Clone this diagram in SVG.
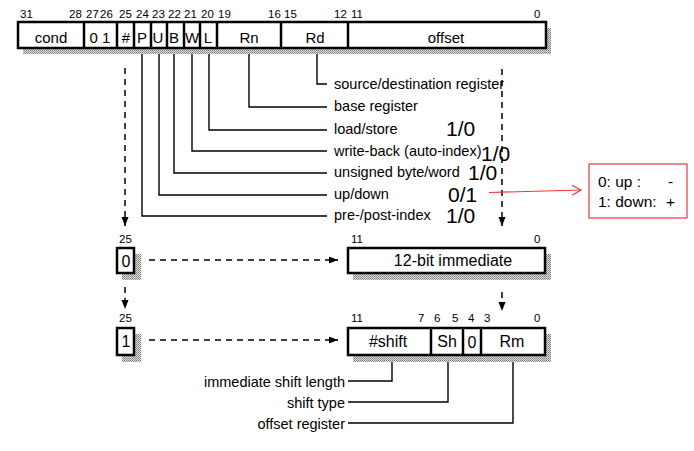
<svg xmlns="http://www.w3.org/2000/svg" width="694" height="451" viewBox="0 0 694 451">
  <style>
    text { font-family: "Liberation Sans", Arial, sans-serif; fill: #000; }
    .bit { font-size: 11.5px; }
    .fld { font-size: 15px; text-anchor: middle; }
    .fld2 { font-size: 16px; text-anchor: middle; }
    .lbl { font-size: 14.5px; }
    .lblr { font-size: 14.5px; text-anchor: end; }
    .big { font-size: 21px; }
    .box { fill: #fff; stroke: #000; stroke-width: 2.5; }
    .div { stroke: #000; stroke-width: 2.5; }
    .shadow { fill: url(#dots); }
    .lead { fill: none; stroke: #000; stroke-width: 1.4; }
    .dash { fill: none; stroke: #000; stroke-width: 1.5; stroke-dasharray: 6 5; }
    .red { fill: none; stroke: #e8383d; stroke-width: 1.2; }
    .note { font-size: 15.5px; }
  </style>
  <defs>
    <pattern id="dots" width="2" height="2" patternUnits="userSpaceOnUse">
      <rect width="2" height="2" fill="#dcdcdc"/>
      <rect width="1" height="1" fill="#7a7a7a"/>
      <rect x="1" y="1" width="1" height="1" fill="#9a9a9a"/>
    </pattern>
    <marker id="head" markerUnits="userSpaceOnUse" markerWidth="10" markerHeight="8" refX="9" refY="3.5" orient="auto">
      <path d="M0,0 L9,3.5 L0,7 z" fill="#000"/>
    </marker>
    <marker id="open" markerUnits="userSpaceOnUse" markerWidth="12" markerHeight="12" refX="10" refY="6" orient="auto">
      <path d="M1,1 L10,6 L1,11" fill="none" stroke="#e8383d" stroke-width="1.2"/>
    </marker>
  </defs>

  <!-- instruction word -->
  <g id="instr">
    <rect class="shadow" x="23" y="28" width="528" height="26"/>
    <rect class="box" x="18" y="22" width="528" height="26"/>
    <line class="div" x1="84" y1="22" x2="84" y2="48"/>
    <line class="div" x1="117" y1="22" x2="117" y2="48"/>
    <line class="div" x1="134" y1="22" x2="134" y2="48"/>
    <line class="div" x1="151" y1="22" x2="151" y2="48"/>
    <line class="div" x1="167" y1="22" x2="167" y2="48"/>
    <line class="div" x1="184" y1="22" x2="184" y2="48"/>
    <line class="div" x1="200" y1="22" x2="200" y2="48"/>
    <line class="div" x1="217" y1="22" x2="217" y2="48"/>
    <line class="div" x1="281" y1="22" x2="281" y2="48"/>
    <line class="div" x1="348" y1="22" x2="348" y2="48"/>
    <text class="fld" x="51" y="43">cond</text>
    <text class="fld" x="100" y="43">0 1</text>
    <text class="fld" x="126" y="43">#</text>
    <text class="fld" x="142" y="43">P</text>
    <text class="fld" x="158" y="43">U</text>
    <text class="fld" x="174" y="43">B</text>
    <text class="fld" x="192" y="43">W</text>
    <text class="fld" x="208" y="43">L</text>
    <text class="fld" x="249" y="43">Rn</text>
    <text class="fld" x="315" y="43">Rd</text>
    <text class="fld" x="446" y="43">offset</text>
    <g class="bit">
      <text x="20" y="18">31</text>
      <text x="69" y="18">28</text>
      <text x="86" y="18">27</text>
      <text x="100" y="18">26</text>
      <text x="119" y="18">25</text>
      <text x="136" y="18">24</text>
      <text x="152" y="18">23</text>
      <text x="168" y="18">22</text>
      <text x="184" y="18">21</text>
      <text x="201" y="18">20</text>
      <text x="218" y="18">19</text>
      <text x="268" y="18">16</text>
      <text x="284" y="18">15</text>
      <text x="334" y="18">12</text>
      <text x="351" y="18">11</text>
      <text x="534" y="18">0</text>
    </g>
  </g>

  <!-- field descriptions -->
  <g id="fields">
    <text class="lbl" x="334" y="89">source/destination register</text>
    <text class="lbl" x="334" y="111">base register</text>
    <text class="lbl" x="334" y="134">load/store</text>
    <text class="lbl" x="334" y="156">write-back (auto-index)</text>
    <text class="lbl" x="334" y="177">unsigned byte/word</text>
    <text class="lbl" x="334" y="199">up/down</text>
    <text class="lbl" x="334" y="220">pre-/post-index</text>
    <text class="big" x="446" y="136">1/0</text>
    <text class="big" x="481" y="161">1/0</text>
    <text class="big" x="468" y="180">1/0</text>
    <text class="big" x="448" y="202">0/1</text>
    <text class="big" x="446" y="223">1/0</text>
  </g>

  <!-- bit 25 = 0 -->
  <g id="i0">
    <rect class="shadow" x="122" y="254" width="19" height="26"/>
    <rect class="box" x="117" y="248" width="17" height="25"/>
    <text class="fld2" x="126" y="267">0</text>
    <text class="bit" x="119" y="243">25</text>
  </g>

  <!-- 12-bit immediate offset -->
  <g id="imm">
    <rect class="shadow" x="353" y="254" width="198" height="26"/>
    <rect class="box" x="348" y="248" width="197" height="25"/>
    <text class="fld2" x="453" y="266">12-bit immediate</text>
    <text class="bit" x="351" y="243">11</text>
    <text class="bit" x="534" y="243">0</text>
  </g>

  <!-- bit 25 = 1 -->
  <g id="i1">
    <rect class="shadow" x="122" y="334" width="19" height="28"/>
    <rect class="box" x="117" y="328" width="17" height="27"/>
    <text class="fld2" x="126" y="347">1</text>
    <text class="bit" x="119" y="322">25</text>
  </g>

  <!-- shifted register offset -->
  <g id="shreg">
    <rect class="shadow" x="353" y="334" width="198" height="28"/>
    <rect class="box" x="348" y="328" width="197" height="27"/>
    <line class="div" x1="431" y1="328" x2="431" y2="355"/>
    <line class="div" x1="463" y1="328" x2="463" y2="355"/>
    <line class="div" x1="481" y1="328" x2="481" y2="355"/>
    <text class="fld2" x="388" y="347">#shift</text>
    <text class="fld2" x="447" y="347">Sh</text>
    <text class="fld2" x="472" y="348">0</text>
    <text class="fld2" x="512" y="347">Rm</text>
    <g class="bit">
      <text x="351" y="322">11</text>
      <text x="418" y="322">7</text>
      <text x="434" y="322">6</text>
      <text x="452" y="322">5</text>
      <text x="468" y="322">4</text>
      <text x="484" y="322">3</text>
      <text x="534" y="322">0</text>
    </g>
    <text class="lblr" x="345" y="387">immediate shift length</text>
    <text class="lblr" x="345" y="408">shift type</text>
    <text class="lblr" x="345" y="429">offset register</text>
  </g>

  <!-- up/down sign note -->
  <g id="note">
    <rect class="red" x="589" y="164" width="98" height="54"/>
    <text class="note" x="598" y="187">0: up :</text>
    <text class="note" x="668" y="187">-</text>
    <text class="note" x="598" y="207">1: down:</text>
    <text class="note" x="666" y="207">+</text>
  </g>

  <g id="connectors">
    <!-- field leaders -->
    <polyline class="lead" points="317,54 317,84 327,84"/>
    <polyline class="lead" points="249,54 249,107 327,107"/>
    <polyline class="lead" points="209,54 209,130 327,130"/>
    <polyline class="lead" points="192,54 192,151 327,151"/>
    <polyline class="lead" points="174,54 174,173 327,173"/>
    <polyline class="lead" points="159,54 159,195 327,195"/>
    <polyline class="lead" points="142,54 142,216 327,216"/>
    <polyline class="lead" points="392,362 392,381 348,381"/>
    <polyline class="lead" points="448,362 448,402 348,402"/>
    <polyline class="lead" points="513,362 513,423 348,423"/>
    <!-- dashed flow -->
    <line class="dash" x1="125" y1="68" x2="125" y2="226" marker-end="url(#head)"/>
    <line class="dash" x1="502" y1="69" x2="502" y2="226" marker-end="url(#head)"/>
    <line class="dash" x1="149" y1="260" x2="338" y2="260" marker-end="url(#head)"/>
    <line class="dash" x1="125" y1="287" x2="125" y2="309" marker-end="url(#head)"/>
    <line class="dash" x1="502" y1="292" x2="502" y2="311" marker-end="url(#head)"/>
    <line class="dash" x1="149" y1="340" x2="338" y2="340" marker-end="url(#head)"/>
    <!-- note pointer -->
    <line class="red" x1="489" y1="192.5" x2="581" y2="190" marker-end="url(#open)"/>
  </g>
</svg>
